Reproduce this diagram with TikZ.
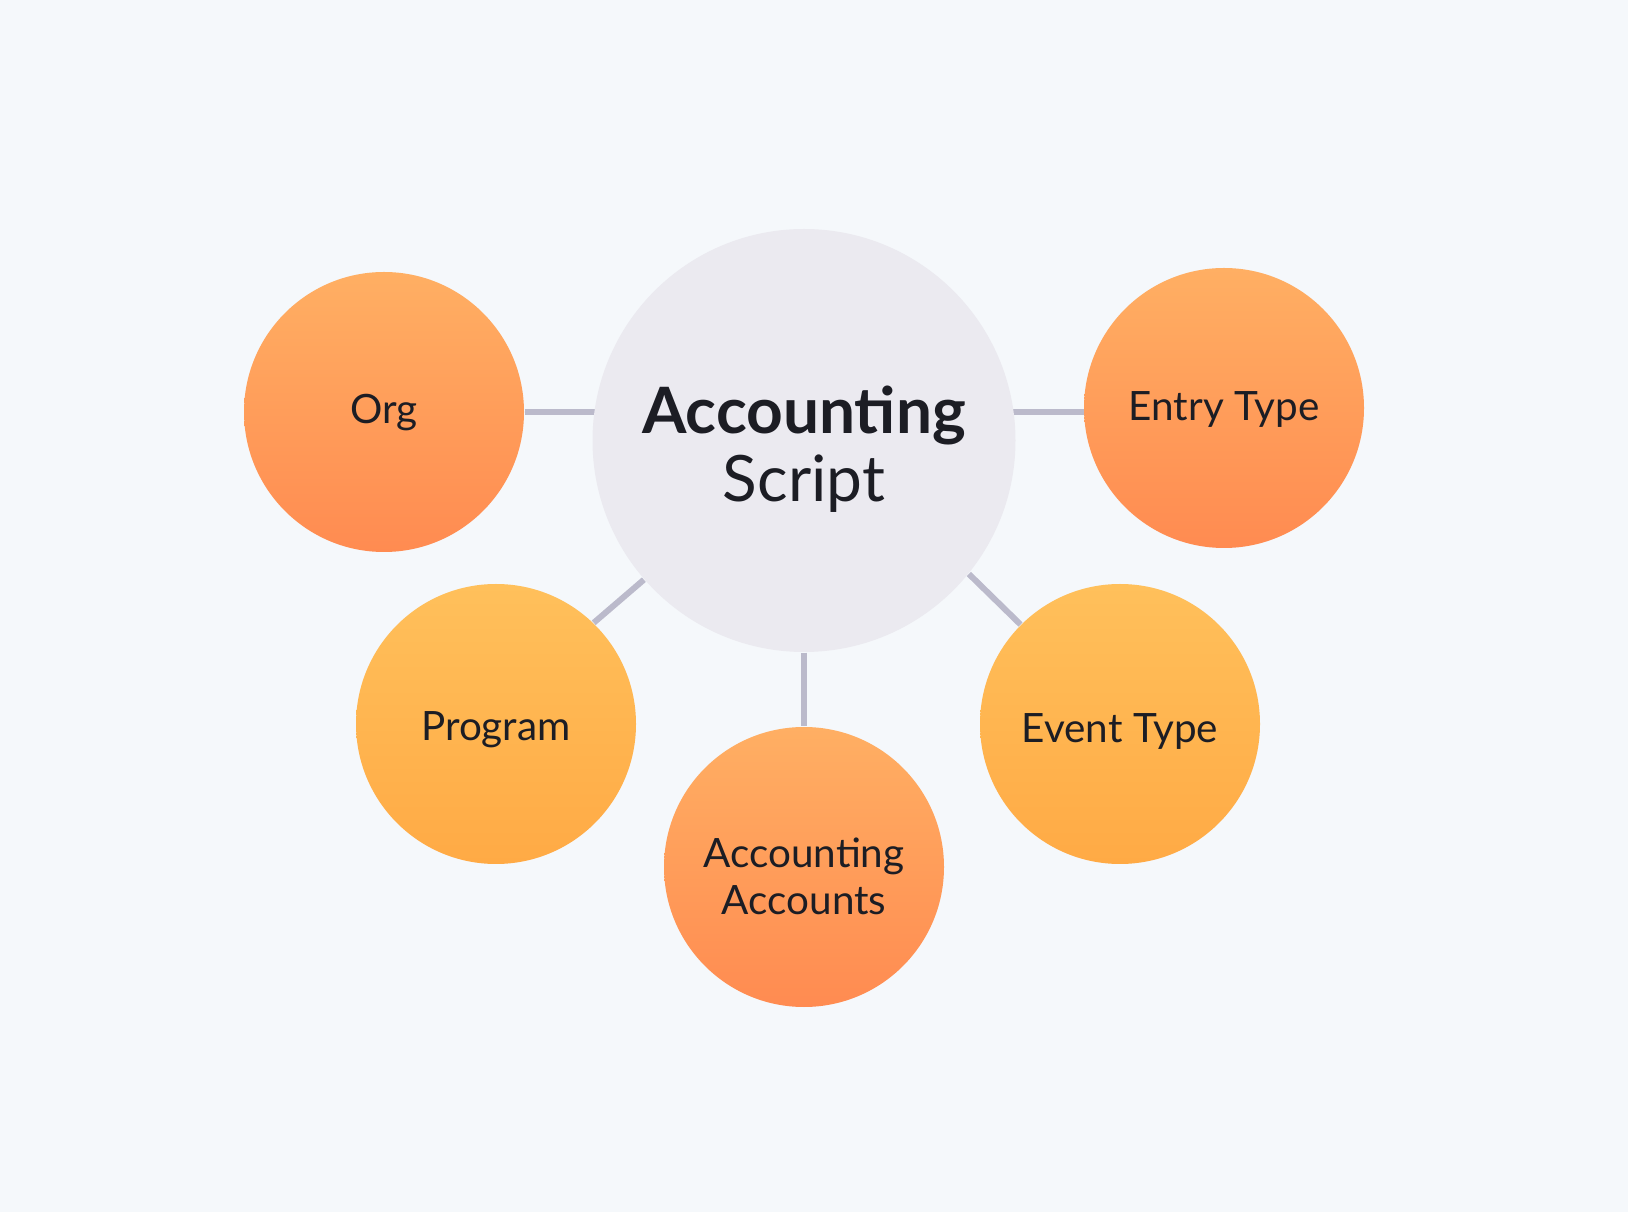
\documentclass[tikz,border=0pt]{standalone}
\usepackage{fontspec}
\setmainfont{Lato}
\usetikzlibrary{calc}
\pgfdeclarelayer{links}
\pgfsetlayers{links,main}
\definecolor{bgcol}{HTML}{F5F8FB}
\definecolor{hubcol}{HTML}{EBEAF0}
\definecolor{linkcol}{HTML}{BBBACB}
\definecolor{inkcol}{HTML}{1C1D24}
\definecolor{warmtop}{HTML}{FFAF63}
\definecolor{warmbot}{HTML}{FF8B51}
\definecolor{ambertop}{HTML}{FFC05B}
\definecolor{amberbot}{HTML}{FFAA45}
\tikzset{
	hub/.style={circle, fill=hubcol, minimum size=4.23cm, inner sep=0pt, text=inkcol, align=center, font=\fontsize{18.2}{19.35}\selectfont},
	leaf/.style={circle, minimum size=2.8cm, inner sep=0pt, text=inkcol, align=center, text depth=0pt, font=\fontsize{11.5}{13.4}\selectfont},
	warm/.style={leaf, top color=warmtop, bottom color=warmbot},
	amber/.style={leaf, top color=ambertop, bottom color=amberbot},
	link/.style={line width=1.7pt, draw=linkcol}
}

\begin{document}
\begin{tikzpicture}
			%%%%% START %%%%%
			
			\begin{pgfonlayer}{links}
				\fill[bgcol] (0, 0) rectangle (16.28, 12.12);
			\end{pgfonlayer}
			
			\node[hub, text height=37.84pt] (script) at (8.04, 7.715) {\textbf{Accounting}\\Script};
			
			\node[warm, text height=6.83pt] (org) at (3.84, 8.00) {Org};
			\node[warm, text height=7.4pt] (entry) at (12.24, 8.04) {Entry Type};
			\node[amber, text height=9.67pt] (prog) at (4.96, 4.88) {Program};
			\node[amber, text height=10.8pt] (event) at (11.20, 4.88) {Event Type};
			\node[warm, text height=27.3pt] (accts) at (8.04, 3.45) {Accounting\\Accounts};
			
			\begin{pgfonlayer}{links}
				\draw[link] (org) -- (org -| script) -- (org -| entry);
				\draw[link] (script.221.8) -- (prog.46);
				\draw[link] (script.321) -- (event.135);
				\draw[link] (script) -- (accts);
			\end{pgfonlayer}
			
			%%%%% END %%%%%
\end{tikzpicture}
\end{document}
